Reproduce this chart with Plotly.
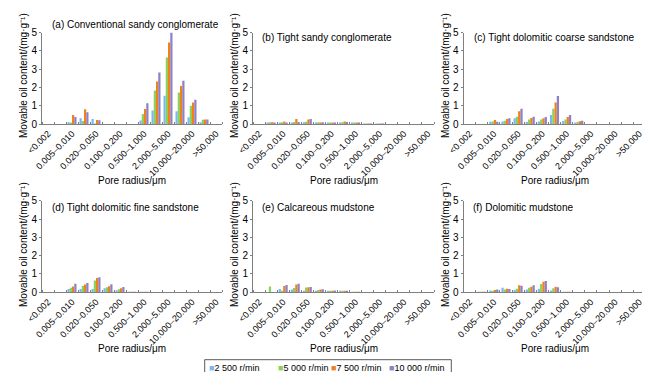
import plotly.graph_objects as go

# ---------------- data ----------------
categories = ["<0.002", "0.002–0.005", "0.005–0.010", "0.010–0.020", "0.020–0.050",
              "0.050–0.100", "0.100–0.200", "0.200–0.500", "0.500–1.000", "1.000–2.000",
              "2.000–5.000", "5.000–10.000", "10.000–20.000", "20.000–50.000", ">50.000"]
# every second category carries a label on the axis
tick_labels = ["<0.002", "0.005–0.010", "0.020–0.050", "0.100–0.200",
               "0.500–1.000", "2.000–5.000", "10.000–20.000", ">50.000"]
series_names = ["2 500 r/min", "5 000 r/min", "7 500 r/min", "10 000 r/min"]
series_colors = ["#7ab8ef", "#8fcf5e", "#f0821e", "#8e81c6"]

panel_titles = ["(a) Conventional sandy conglomerate", "(b) Tight sandy conglomerate",
                "(c) Tight dolomitic coarse sandstone", "(d) Tight dolomitic fine sandstone",
                "(e) Calcareous mudstone", "(f) Dolomitic mudstone"]
x_title = "Pore radius/μm"
y_title = "Movable oil content/(mg·g⁻¹)"

a_2500 = [0, 0, 0.10, 0.31, 0.27, 0, 0, 0, 0.19, 0.74, 1.54, 0.70, 0.37, 0.10, 0]
a_5000 = [0, 0, 0.06, 0.17, 0.02, 0, 0, 0, 0.55, 1.83, 3.64, 1.72, 1.00, 0.23, 0]
a_7500 = [0, 0, 0.49, 0.81, 0.22, 0, 0, 0, 0.82, 2.32, 4.46, 2.08, 1.17, 0.24, 0]
a_10000 = [0, 0, 0.38, 0.64, 0.21, 0, 0, 0, 1.14, 2.81, 5.00, 2.37, 1.33, 0.25, 0]

b_2500 = [0, 0.03, 0.04, 0.08, 0.10, 0.06, 0.07, 0.07, 0.04, 0.01, 0.01, 0, 0, 0, 0]
b_5000 = [0, 0.10, 0.09, 0.11, 0.12, 0.09, 0.08, 0.10, 0.05, 0.01, 0.01, 0, 0, 0, 0]
b_7500 = [0, 0.10, 0.14, 0.27, 0.24, 0.07, 0.08, 0.13, 0.05, 0.02, 0.01, 0, 0, 0, 0]
b_10000 = [0, 0.03, 0.08, 0.11, 0.27, 0.10, 0.06, 0.11, 0.05, 0.02, 0.01, 0, 0, 0, 0]

c_2500 = [0, 0, 0.12, 0.13, 0.31, 0.11, 0.13, 0.49, 0.16, 0.05, 0, 0, 0, 0, 0]
c_5000 = [0, 0, 0.13, 0.18, 0.40, 0.25, 0.25, 0.84, 0.25, 0.11, 0, 0, 0, 0, 0]
c_7500 = [0, 0, 0.22, 0.27, 0.69, 0.33, 0.31, 1.17, 0.38, 0.15, 0, 0, 0, 0, 0]
c_10000 = [0, 0, 0.12, 0.31, 0.84, 0.40, 0.38, 1.53, 0.49, 0.18, 0, 0, 0, 0, 0]

d_2500 = [0, 0, 0.18, 0.18, 0.18, 0.22, 0.11, 0.03, 0.01, 0, 0, 0, 0, 0, 0]
d_5000 = [0, 0, 0.25, 0.36, 0.64, 0.27, 0.16, 0.03, 0.01, 0, 0, 0, 0, 0, 0]
d_7500 = [0, 0, 0.31, 0.42, 0.78, 0.33, 0.22, 0.03, 0.01, 0, 0, 0, 0, 0, 0]
d_10000 = [0, 0, 0.47, 0.51, 0.82, 0.44, 0.29, 0.03, 0.01, 0, 0, 0, 0, 0, 0]

e_2500 = [0, 0, 0.18, 0.15, 0.05, 0.05, 0.05, 0.05, 0.03, 0, 0, 0, 0, 0, 0]
e_5000 = [0, 0.31, 0.09, 0.24, 0.26, 0.13, 0.08, 0.06, 0.03, 0, 0, 0, 0, 0, 0]
e_7500 = [0, 0, 0.35, 0.42, 0.27, 0.15, 0.09, 0.06, 0.03, 0, 0, 0, 0, 0, 0]
e_10000 = [0, 0, 0.40, 0.47, 0.29, 0.16, 0.10, 0.06, 0.03, 0, 0, 0, 0, 0, 0]

f_2500 = [0, 0.03, 0.10, 0.25, 0.12, 0.15, 0.20, 0.10, 0.03, 0, 0, 0, 0, 0, 0]
f_5000 = [0, 0.03, 0.08, 0.15, 0.20, 0.25, 0.45, 0.22, 0.03, 0, 0, 0, 0, 0, 0]
f_7500 = [0, 0.03, 0.12, 0.20, 0.38, 0.30, 0.58, 0.30, 0.03, 0, 0, 0, 0, 0, 0]
f_10000 = [0, 0.03, 0.15, 0.18, 0.36, 0.38, 0.62, 0.28, 0.03, 0, 0, 0, 0, 0, 0]

panel_data = [
    [a_2500, a_5000, a_7500, a_10000],
    [b_2500, b_5000, b_7500, b_10000],
    [c_2500, c_5000, c_7500, c_10000],
    [d_2500, d_5000, d_7500, d_10000],
    [e_2500, e_5000, e_7500, e_10000],
    [f_2500, f_5000, f_7500, f_10000],
]

# category positions on the axis (one slot per category)
cat_pos = list(range(len(categories)))
label_pos = cat_pos[::2]
boundaries = [k - 0.5 for k in range(len(categories) + 1)]

# ---------------- layout (pixel geometry) ----------------
W, H = 650, 372
FONT = "Liberation Sans, Arial, sans-serif"
AXC = "#7f7f7f"

col_x = [(34, 214), (245, 426), (455.5, 637.5)]
row_y = [(24.5, 116), (192.7, 284.3)]          # (top, bottom) pixel
title_pos = [(42, 17), (252, 29.5), (464, 29.5), (42, 199), (252, 199), (463, 199)]
ytitle_x = [15, 226, 437]
ytitle_cy = [68, 237]
xtitle_cy = [172, 340]

def fx(p):
    return p / W

def fy(p):
    return 1 - p / H

fig = go.Figure()
layout = dict(
    width=W, height=H,
    margin=dict(l=0, r=0, t=0, b=0),
    paper_bgcolor="white", plot_bgcolor="white",
    barmode="group", bargap=0.25, bargroupgap=0.0,
    showlegend=False,
    font=dict(family=FONT, size=10, color="black"),
)
annotations = []
shapes = []

for p in range(6):
    r, c = divmod(p, 3)
    i = p + 1
    xn = "x" if i == 1 else f"x{i}"
    yn = "y" if i == 1 else f"y{i}"
    x0, x1 = col_x[c]
    ytop, ybot = row_y[r]
    for s in range(4):
        fig.add_trace(go.Bar(
            x=cat_pos, y=panel_data[p][s], name=series_names[s],
            customdata=categories,
            hovertemplate="%{customdata}: %{y}<extra>" + series_names[s] + "</extra>",
            marker=dict(color=series_colors[s], line=dict(width=0)),
            xaxis=xn, yaxis=yn, showlegend=False,
        ))
    layout["xaxis" if i == 1 else f"xaxis{i}"] = dict(
        domain=[fx(x0), fx(x1)], anchor=yn,
        range=[boundaries[0], boundaries[-1]],
        tickmode="array", tickvals=label_pos, ticktext=tick_labels,
        tickangle=-45, ticks="",
        minor=dict(tickmode="array", tickvals=boundaries, ticks="inside",
                   ticklen=2, tickcolor=AXC, tickwidth=1, showgrid=False),
        showline=True, linecolor=AXC, linewidth=1,
        showgrid=False, zeroline=False, automargin=False,
        tickfont=dict(family=FONT, size=9, color="black"),
    )
    layout["yaxis" if i == 1 else f"yaxis{i}"] = dict(
        domain=[fy(ybot), fy(ytop)], anchor=xn,
        range=[0, 5], tickmode="linear", tick0=0, dtick=1,
        ticks="outside", ticklen=2, tickcolor=AXC, tickwidth=1,
        showline=True, linecolor=AXC, linewidth=1,
        showgrid=False, zeroline=False, automargin=False,
        tickfont=dict(family=FONT, size=10, color="black"),
    )
    tx, ty = title_pos[p]
    annotations.append(dict(
        text=panel_titles[p], x=fx(tx), y=fy(ty), xref="paper", yref="paper",
        xanchor="left", yanchor="middle", showarrow=False,
        font=dict(family=FONT, size=10, color="black"),
    ))
    annotations.append(dict(
        text=y_title, x=fx(ytitle_x[c]), y=fy(ytitle_cy[r]), xref="paper", yref="paper",
        xanchor="center", yanchor="middle", textangle=-90, showarrow=False,
        font=dict(family=FONT, size=10, color="black"),
    ))
    annotations.append(dict(
        text=x_title, x=fx((x0 + x1) / 2), y=fy(xtitle_cy[r]),
        xref="paper", yref="paper", xanchor="center", yanchor="middle",
        showarrow=False, font=dict(family=FONT, size=10, color="black"),
    ))

# legend (compact, boxed)
leg_x = [198.5, 267.5, 321, 379.5]
leg_cy = 360
for s in range(4):
    annotations.append(dict(
        text=f"<span style='color:{series_colors[s]}'>■</span>{series_names[s]}",
        x=fx(leg_x[s]), y=fy(leg_cy), xref="paper", yref="paper",
        xanchor="left", yanchor="middle", showarrow=False,
        font=dict(family=FONT, size=9, color="black"),
    ))
shapes.append(dict(type="rect", xref="paper", yref="paper",
                   x0=fx(196.7), x1=fx(443.3), y0=fy(368.3), y1=fy(351.7),
                   line=dict(color="#595959", width=1), fillcolor="rgba(0,0,0,0)"))

layout["annotations"] = annotations
layout["shapes"] = shapes
fig.update_layout(**layout)
fig.write_html("out.html")
